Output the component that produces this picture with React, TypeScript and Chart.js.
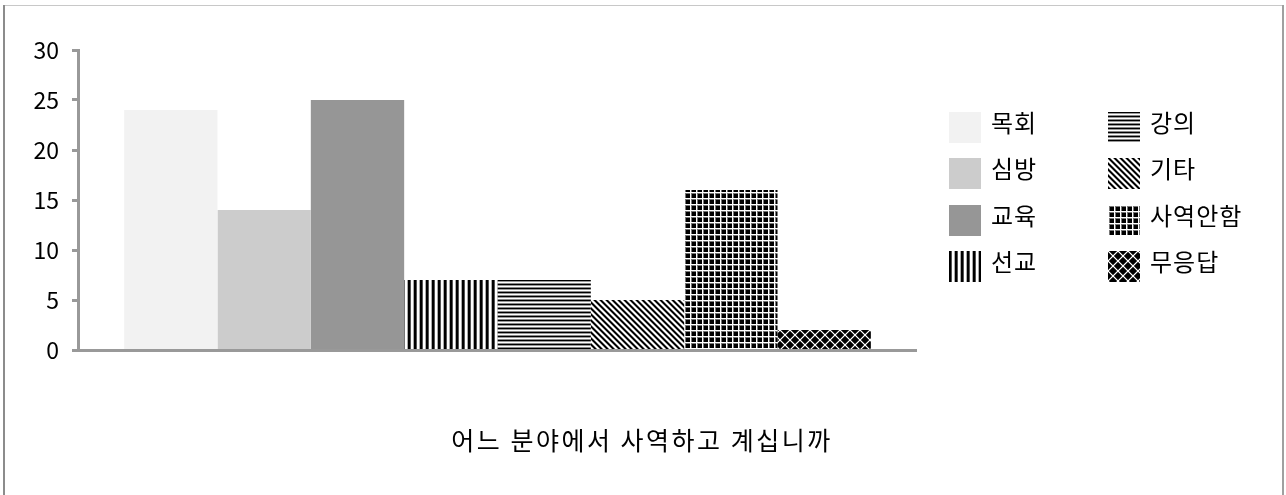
import React, { useEffect, useRef } from "react";
import { Chart, registerables } from "chart.js";

Chart.register(...registerables);

const seriesNames = ["목회", "심방", "교육", "선교", "강의", "기타", "사역안함", "무응답"];
const seriesValues = [24, 14, 25, 7, 7, 5, 16, 2];
const categories = [""];
const yTicks = [0, 5, 10, 15, 20, 25, 30];
const titleText = "어느 분야에서 사역하고 계십니까";

const FONT = '"Noto Sans CJK KR", "Noto Sans", sans-serif';

function tile(w: number, h: number, fn: (x: number, y: number) => string): CanvasPattern {
  const c = document.createElement("canvas");
  c.width = w;
  c.height = h;
  const ctx = c.getContext("2d")!;
  for (let y = 0; y < h; y++) {
    for (let x = 0; x < w; x++) {
      ctx.fillStyle = fn(x, y);
      ctx.fillRect(x, y, 1, 1);
    }
  }
  const p = document.createElement("canvas").getContext("2d")!.createPattern(c, "repeat")!;
  return p;
}

function makeFills(): (string | CanvasPattern)[] {
  const vertical = tile(6, 1, (x) => ["#000", "#000", "#555", "#fff", "#fff", "#aaa"][x]);
  const horizontal = tile(1, 4, (_x, y) => ["#000", "#999", "#fff", "#888"][y]);
  const diagonal = tile(6, 6, (x, y) => {
    const d = (((x - y) % 6) + 6) % 6;
    return d < 2 ? "#000" : d === 2 ? "#777" : d === 5 ? "#999" : "#fff";
  });
  const grid = tile(6, 6, (x, y) => {
    if (x === 0 || y === 0) return "#fff";
    if (x === 1 || y === 1) return "#777";
    return "#000";
  });
  const cross = tile(10, 10, (x, y) => {
    if (x === y || x + y === 9) return "#fff";
    if (Math.abs(x - y) === 1 || Math.abs(x + y - 9) === 1) return "#555";
    return "#000";
  });
  return ["#f2f2f2", "#cccccc", "#969696", vertical, horizontal, diagonal, grid, cross];
}

export default function App() {
  const ref = useRef<HTMLCanvasElement | null>(null);

  useEffect(() => {
    document.body.style.margin = "0";
    const fills = makeFills();

    const decor = {
      id: "decor",
      afterDraw(chart: any) {
        const ctx = chart.ctx as CanvasRenderingContext2D;
        const area = chart.chartArea;
        ctx.save();
        // outer border
        ctx.fillStyle = "#c8c8c8";
        ctx.fillRect(3, 5, 1281, 1);
        ctx.fillStyle = "#8c8c8c";
        ctx.fillRect(3, 5, 2, 495);
        ctx.fillStyle = "#a0a0a0";
        ctx.fillRect(1282, 5, 2, 495);
        // x axis line
        ctx.fillStyle = "#999";
        ctx.fillRect(area.left - 5, area.bottom - 1, area.right - area.left + 5, 3);
        // legend
        ctx.font = `24px ${FONT}`;
        (ctx as any).letterSpacing = "1px";
        ctx.textBaseline = "middle";
        ctx.textAlign = "left";
        const colX = [949, 1108];
        const rowY = [112, 158, 205, 251];
        seriesNames.forEach((name, i) => {
          const col = Math.floor(i / 4);
          const row = i % 4;
          const x = colX[col];
          const y = rowY[row];
          ctx.fillStyle = fills[i] as any;
          ctx.save();
          ctx.translate(x, y);
          ctx.fillRect(0, 0, 32, 31);
          ctx.restore();
          ctx.fillStyle = "#000";
          ctx.fillText(name, x + 42, y + 11);
        });
        // title
        ctx.textAlign = "left";
        ctx.font = `25px ${FONT}`;
        (ctx as any).letterSpacing = "2.5px";
        const w = ctx.measureText(titleText).width;
        ctx.fillText(titleText, 641 - w / 2 + 1, 440);
        ctx.restore();
      },
    };

    const chart = new Chart(ref.current!, {
      type: "bar",
      data: {
        labels: categories,
        datasets: seriesNames.map((name, i) => ({
          label: name,
          data: [seriesValues[i]],
          backgroundColor: fills[i] as any,
          borderWidth: 0,
          barPercentage: 1,
          categoryPercentage: 0.89,
        })),
      },
      options: {
        animation: false,
        responsive: false,
        maintainAspectRatio: false,
        layout: { padding: { left: 0, top: 50, right: 369, bottom: 145 } },
        plugins: {
          legend: { display: false },
          tooltip: { enabled: false },
          title: { display: false },
        },
        scales: {
          x: {
            display: false,
          },
          y: {
            min: 0,
            max: 30,
            afterFit(scale: any) {
              scale.width = 78;
            },
            afterBuildTicks(scale: any) {
              scale.ticks = yTicks.map((v) => ({ value: v }));
            },
            grid: {
              display: true,
              drawOnChartArea: false,
              drawTicks: true,
              tickLength: 6,
              tickColor: "#999",
              tickWidth: 3,
              color: "#999",
            },
            border: { display: true, color: "#999", width: 3 },
            ticks: {
              padding: 13,
              color: "#000",
              font: { family: FONT, size: 23 },
            },
          },
        },
      },
      plugins: [decor],
    } as any);

    return () => chart.destroy();
  }, []);

  return (
    <div style={{ width: 1286, height: 495, position: "relative" }}>
      <canvas ref={ref} width={1286} height={495} style={{ display: "block" }} />
    </div>
  );
}
